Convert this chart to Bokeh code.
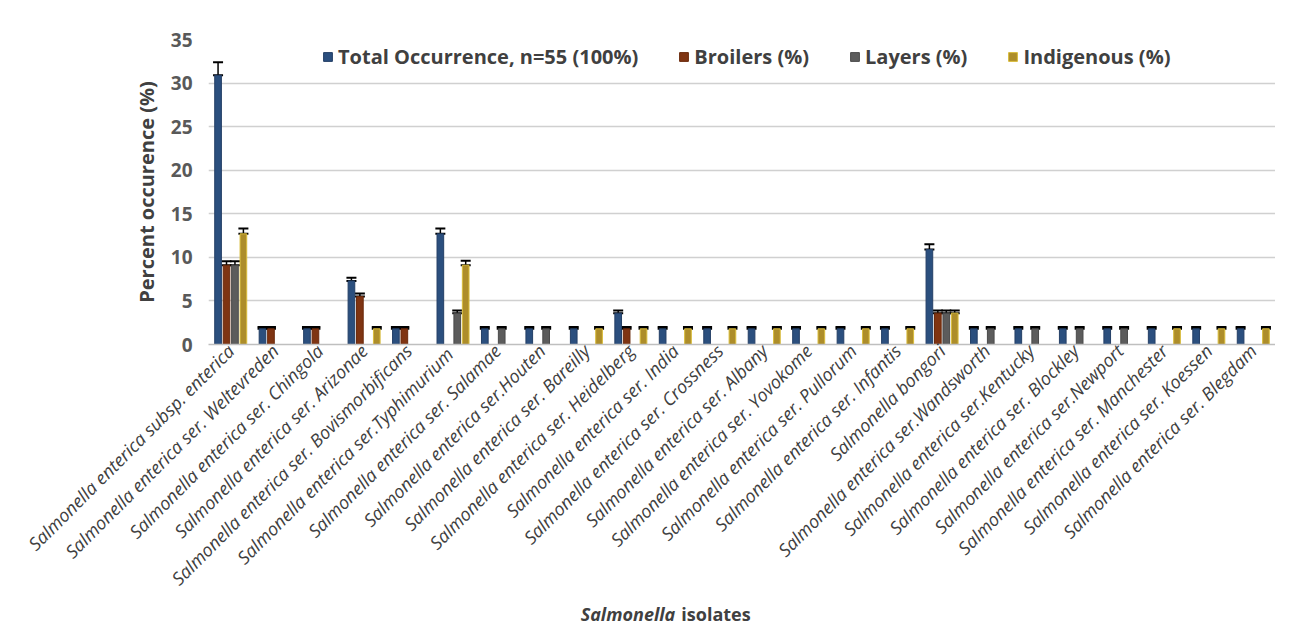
from bokeh.plotting import figure
from bokeh.models import (Range1d, FactorRange, ColumnDataSource, Whisker, TeeHead,
                          Legend, LegendItem, FixedTicker)
from bokeh.layouts import column
from bokeh.transform import dodge
from bokeh.core.properties import value
from bokeh.embed import file_html
from bokeh.resources import INLINE
import math

categories = [
    "Salmonella enterica subsp. enterica",
    "Salmonella enterica ser. Weltevreden",
    "Salmonella enterica ser. Chingola",
    "Salmonella enterica ser. Arizonae",
    "Salmonella enterica ser. Bovismorbificans",
    "Salmonella enterica  ser.Typhimurium",
    "Salmonella enterica ser. Salamae",
    "Salmonella enterica ser.Houten",
    "Salmonella enterica ser. Bareilly",
    "Salmonella enterica ser. Heidelberg",
    "Salmonella enterica ser. India",
    "Salmonella enterica ser. Crossness",
    "Salmonella enterica ser. Albany",
    "Salmonella enterica ser. Yovokome",
    "Salmonella enterica ser. Pullorum",
    "Salmonella enterica ser. Infantis",
    "Salmonella bongori",
    "Salmonella enterica ser.Wandsworth",
    "Salmonella enterica ser.Kentucky",
    "Salmonella enterica ser. Blockley",
    "Salmonella enterica ser.Newport",
    "Salmonella enterica ser. Manchester",
    "Salmonella enterica ser. Koessen",
    "Salmonella enterica ser. Blegdam",
]

total = [30.9, 1.8, 1.8, 7.3, 1.8, 12.7, 1.8, 1.8, 1.8, 3.6, 1.8, 1.8,
         1.8, 1.8, 1.8, 1.8, 10.9, 1.8, 1.8, 1.8, 1.8, 1.8, 1.8, 1.8]
total_err = [1.5, 0.2, 0.2, 0.35, 0.2, 0.6, 0.2, 0.2, 0.2, 0.3, 0.2, 0.2,
             0.2, 0.2, 0.2, 0.2, 0.6, 0.2, 0.2, 0.2, 0.2, 0.2, 0.2, 0.2]

broilers = [9.1, 1.8, 1.8, 5.5, 1.8, 0, 0, 0, 0, 1.8, 0, 0,
            0, 0, 0, 0, 3.6, 0, 0, 0, 0, 0, 0, 0]
broilers_err = [0.45, 0.2, 0.2, 0.35, 0.2, 0, 0, 0, 0, 0.2, 0, 0,
                0, 0, 0, 0, 0.3, 0, 0, 0, 0, 0, 0, 0]

layers = [9.1, 0, 0, 0, 0, 3.6, 1.8, 1.8, 0, 0, 0, 0,
          0, 0, 0, 0, 3.6, 1.8, 1.8, 1.8, 1.8, 0, 0, 0]
layers_err = [0.45, 0, 0, 0, 0, 0.3, 0.2, 0.2, 0, 0, 0, 0,
              0, 0, 0, 0, 0.3, 0.2, 0.2, 0.2, 0.2, 0, 0, 0]

indigenous = [12.7, 0, 0, 1.8, 0, 9.1, 0, 0, 1.8, 1.8, 1.8, 1.8,
              1.8, 1.8, 1.8, 1.8, 3.6, 0, 0, 0, 0, 1.8, 1.8, 1.8]
indigenous_err = [0.6, 0, 0, 0.2, 0, 0.5, 0, 0, 0.2, 0.2, 0.2, 0.2,
                  0.2, 0.2, 0.2, 0.2, 0.3, 0, 0, 0, 0, 0.2, 0.2, 0.2]

series_names = ["Total Occurrence, n=55 (100%)", "Broilers (%)", "Layers (%)", "Indigenous (%)"]
y_ticks = [0, 5, 10, 15, 20, 25, 30, 35]
y_title = "Percent occurence (%)"
x_title_italic = "Salmonella"
x_title_rest = "isolates"

series = [
    (series_names[0], total, total_err, "#2b4f7e", "#243f66", -0.285),
    (series_names[1], broilers, broilers_err, "#7f3412", "#6b2a0c", -0.095),
    (series_names[2], layers, layers_err, "#5c5c5c", "#4a4a4a", 0.095),
    (series_names[3], indigenous, indigenous_err, "#ad8d2a", "#d9bc3a", 0.285),
]

FONT = "Open Sans"
W = 1275
LEFT = 208

p = figure(width=W, height=602, x_range=FactorRange(*categories, range_padding=0),
           y_range=Range1d(0, 35), output_backend="svg", toolbar_location=None,
           min_border_left=LEFT, min_border_right=0, min_border_top=39,
           min_border_bottom=258)
p.x_range.factor_padding = 0
p.outline_line_color = None
p.background_fill_color = "white"
p.border_fill_color = "white"

items = []
for name, vals, errs, fill, edge, off in series:
    cats = [c for c, v in zip(categories, vals) if v > 0]
    v = [x for x in vals if x > 0]
    e = [er for er, x in zip(errs, vals) if x > 0]
    src = ColumnDataSource(dict(cat=cats, val=v, upper=[a + b for a, b in zip(v, e)]))
    r = p.vbar(x=dodge("cat", off, range=p.x_range), top="val", width=0.15, source=src,
               fill_color=fill, line_color=edge, line_width=1)
    w = Whisker(base=dodge("cat", off, range=p.x_range), upper="upper", lower="val",
                source=src, line_color="black", line_width=1.5,
                upper_head=TeeHead(size=10, line_color="black", line_width=2),
                lower_head=TeeHead(size=10, line_color="black", line_width=2))
    p.add_layout(w)
    items.append(LegendItem(label=name, renderers=[r]))

legend = Legend(items=items, orientation="horizontal", location=(114, 274),
                label_text_font=FONT, label_text_font_style="bold",
                label_text_font_size="20px", label_text_color="#404040",
                glyph_height=11, glyph_width=11, label_height=24, label_standoff=5,
                spacing=40, padding=0, margin=0, border_line_color=None,
                background_fill_alpha=0)
p.add_layout(legend, "center")

p.xgrid.grid_line_color = None
p.ygrid.grid_line_color = "#d0d0d0"
p.ygrid.grid_line_width = 1.5
p.yaxis.ticker = FixedTicker(ticks=y_ticks)

p.yaxis.axis_line_color = None
p.yaxis.major_tick_line_color = None
p.yaxis.minor_tick_line_color = None
p.yaxis.major_tick_out = 0
p.yaxis.major_label_standoff = 16
p.yaxis.major_label_text_font = FONT
p.yaxis.major_label_text_font_style = "bold"
p.yaxis.major_label_text_font_size = "19px"
p.yaxis.major_label_text_color = "#595959"
p.yaxis.axis_label = y_title
p.yaxis.axis_label_text_font = FONT
p.yaxis.axis_label_text_font_style = "bold"
p.yaxis.axis_label_text_font_size = "20px"
p.yaxis.axis_label_text_color = "#404040"
p.yaxis.axis_label_standoff = 8

p.xaxis.axis_line_color = "#bfbfbf"
p.xaxis.axis_line_width = 1.5
p.xaxis.major_tick_line_color = None
p.xaxis.major_tick_out = 0
p.xaxis.major_label_standoff = 3
p.xaxis.major_label_orientation = math.pi / 4
p.xaxis.major_label_text_font = FONT
p.xaxis.major_label_text_font_style = "italic"
p.xaxis.major_label_text_font_size = "18px"
p.xaxis.major_label_text_color = "#404040"

# x-axis title strip (mixed italic / upright words), sharing the category axis
p2 = figure(width=W, height=22, x_range=p.x_range, y_range=Range1d(0, 1),
            output_backend="svg", toolbar_location=None, x_axis_location=None,
            y_axis_location=None, min_border_left=LEFT, min_border_right=0,
            min_border_top=0, min_border_bottom=0)
p2.outline_line_color = None
p2.xgrid.visible = False
p2.ygrid.visible = False
mid = [categories[10]]
p2.text(x=mid, y=[0.5], text=[x_title_italic], text_align="right", text_baseline="middle",
        x_offset=0, text_font=value(FONT), text_font_style="bold italic",
        text_font_size="18px", text_color="#404040")
p2.text(x=mid, y=[0.5], text=[x_title_rest], text_align="left", text_baseline="middle",
        x_offset=6, text_font=value(FONT), text_font_style="bold",
        text_font_size="18px", text_color="#404040")

layout = column(p, p2, spacing=0)
open("out.html", "w").write(file_html(layout, INLINE))
